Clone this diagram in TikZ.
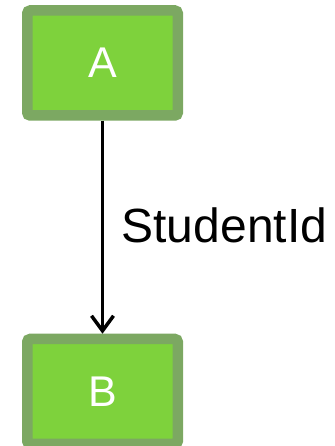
\documentclass[tikz,border=0pt]{standalone}
\usepackage{fontspec}
\setmainfont{Liberation Sans}
\usetikzlibrary{arrows.meta}
\definecolor{boxfill}{RGB}{126,210,60}
\definecolor{boxedge}{RGB}{124,168,98}
\begin{document}
\begin{tikzpicture}[x=1pt, y=1pt,
    entity/.style={draw=boxedge, fill=boxfill, line width=10.5pt, rounded corners=3pt,
      minimum width=150.5pt, minimum height=105pt, inner sep=0, text=white,
      font=\fontsize{43}{50}\selectfont}]
      \useasboundingbox (0,0) rectangle (334,446);
      \node [entity] (A) at (102.5,383) {A};
      \node [entity] (B) at (102.5,54.5) {B};
      \draw [line width=3.5pt, -{Straight Barb[length=15pt, width=22pt, line width=3.5pt]}] (A.south) -- (B.north)
        node [midway, right, xshift=14pt, yshift=2pt, font=\fontsize{48}{56}\selectfont] {StudentId};
    \end{tikzpicture}
\end{document}
